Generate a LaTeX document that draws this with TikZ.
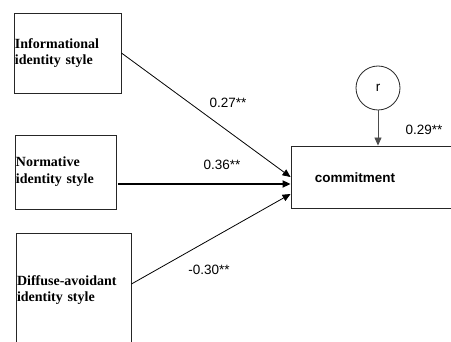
\documentclass[tikz,border=0pt]{standalone}
\usepackage{fontspec}
\setmainfont{Liberation Serif}
\setsansfont{Liberation Sans}
\usetikzlibrary{arrows.meta,calc}
\begin{document}
\begin{tikzpicture}[x=1pt,y=-1pt,
  boxtext/.style={draw=black!85, line width=0.9pt, align=left, inner xsep=1pt, inner ysep=0pt,
    font=\fontsize{14}{16.7}\selectfont\bfseries, anchor=center},
  plainbox/.style={draw=black!85, line width=0.9pt, inner sep=0pt},
  lbl/.style={font=\fontsize{13.5}{16}\selectfont\sffamily, inner sep=0pt},
  arr/.style={line width=0.8pt, -{Triangle[length=8pt,width=7pt]}},
]
\clip (0,0) rectangle (451,342);
\fill[white] (0,0) rectangle (451,342);
\node[boxtext, text width=105pt, minimum height=80pt] (b1) at (67.5,53) {Informational\\identity style};
\node[boxtext, text width=99pt, minimum height=74pt] (b2) at (65.5,172) {Normative\\identity style};
\node[boxtext, text width=113pt, minimum height=114pt] (b3) at (73.5,290) {Diffuse-avoidant\\identity style};
\node[plainbox, minimum width=179pt, minimum height=62pt] (c) at (380.5,177) {};
\node[font=\fontsize{13.5}{16}\selectfont\sffamily\bfseries, inner sep=0pt] (ct) at (355,178) {commitment};
\node[draw=black!85, line width=0.8pt, circle, minimum size=44pt, inner sep=0pt,
  font=\fontsize{13.5}{16}\selectfont\sffamily] (r) at (378,88) {r};
\draw[arr] (b1.east) -- (c.west);
\draw[arr, line width=2.4pt] ([xshift=1.5pt,yshift=-12pt]b2.east) -- ([yshift=-7pt]c.west);
\draw[arr] ([yshift=6pt]b3.east) -- ([yshift=-17pt]c.west);
\draw[arr, draw=black!70, fill=black] (r.south) -- (r.south |- c.north);
\node[lbl] (l1) at (228,103) {0.27**};
\node[lbl] (l2) at (222,165) {0.36**};
\node[lbl] (l3) at (209,270) {-0.30**};
\node[lbl] (l4) at (424,130) {0.29**};
\end{tikzpicture}
\end{document}
